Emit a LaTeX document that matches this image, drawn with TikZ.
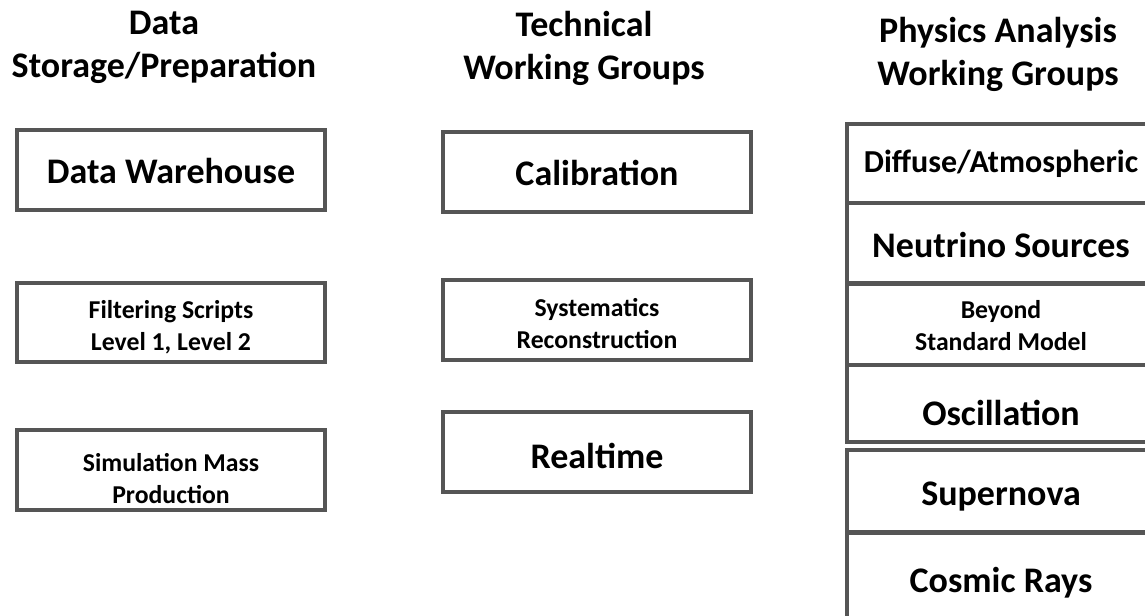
\documentclass[tikz,border=0pt]{standalone}
\usepackage{fontspec}
\setmainfont{Carlito}
\definecolor{boxgray}{RGB}{85,85,85}
\tikzset{every picture/.style={line width=0.75pt}}
\tikzset{
  grpbox/.style={draw=boxgray, line width=3pt, minimum width=231pt, inner sep=0pt, align=center, text depth=0pt, font=\bfseries\fontsize{27}{32}\selectfont},
  smalltxt/.style={font=\bfseries\fontsize{19.3}{23.3}\selectfont},
  hdr/.style={inner sep=0pt, align=center, font=\bfseries\fontsize{27}{32.25}\selectfont}
}

\begin{document}
\begin{tikzpicture}[x=0.75pt,y=0.75pt,yscale=-1,xscale=1]
        \clip (0,0) rectangle (1145,615);
        % Column headings
        \node [hdr, anchor=base] (hstore) at (164,77) {Data\\Storage/Preparation};
        \node [hdr, anchor=base] (htech) at (584,79) {Technical\\Working Groups};
        \node [hdr, anchor=base] (hphys) at (998,85) {Physics Analysis\\Working Groups};

        % Data storage / preparation
        \node [grpbox, minimum height=60pt, text height=19.5pt] (warehouse) at (171,170) {Data Warehouse};
        \node [grpbox, smalltxt, minimum height=59.25pt, text height=41.25pt] (filter) at (171,322.5) {Filtering Scripts\\Level 1, Level 2};
        \node [grpbox, smalltxt, minimum height=60pt, text height=49.5pt] (simprod) at (171,470) {Simulation Mass\\Production};

        % Technical working groups
        \node [grpbox, minimum height=60pt, text height=19.5pt] (calib) at (597,172) {Calibration};
        \node [grpbox, smalltxt, minimum height=60pt, text height=42pt] (reco) at (597,320) {Systematics\\Reconstruction};
        \node [grpbox, minimum height=60pt, text height=24pt] (realtime) at (597,452) {Realtime};

        % Physics analysis working groups
        \node [grpbox, minimum height=59.25pt, text height=12.75pt, font=\bfseries\fontsize{24}{28}\selectfont] (diffuse) at (1001,163.5) {Diffuse/Atmospheric};
        \node [grpbox, minimum height=60pt, text height=21pt] (sources) at (1001,243) {Neutrino Sources};
        \node [grpbox, smalltxt, minimum height=60.75pt, text height=38.25pt] (bsm) at (1001,324.5) {Beyond\\Standard Model};
        \node [grpbox, minimum height=57.75pt, text height=32.25pt] (osc) at (1001,403.5) {Oscillation};
        \node [grpbox, minimum height=61.5pt, text height=21pt] (snova) at (1001,491) {Supernova};
        \node [grpbox, minimum height=65.25pt, text height=23.25pt] (cosmic) at (1001,576.5) {Cosmic Rays};
\end{tikzpicture}
\end{document}
